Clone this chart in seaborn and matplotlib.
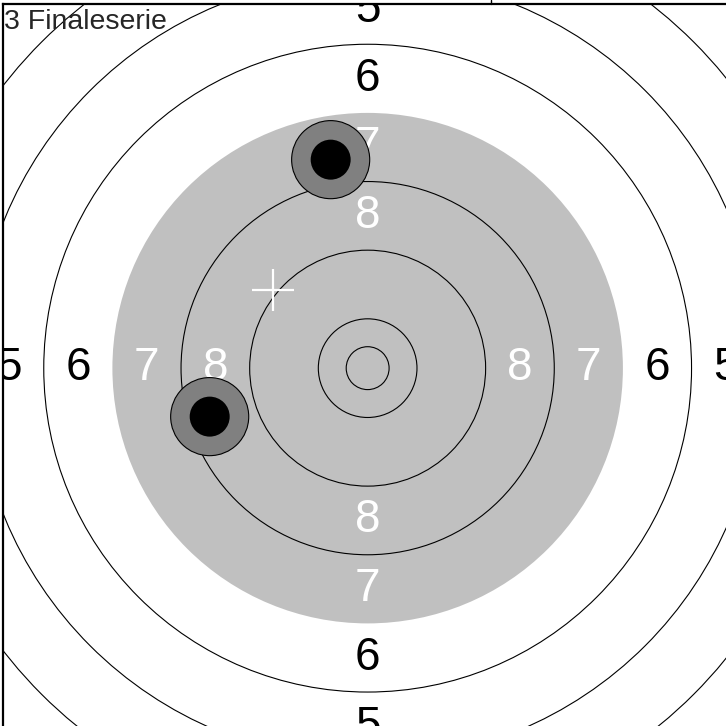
import matplotlib
matplotlib.use("Agg")
import matplotlib.pyplot as plt
from matplotlib.patches import Circle
from matplotlib.lines import Line2D
import seaborn as sns
import pandas as pd

## Air pistol target, everything in mm
ring_radii = [2.5, 5.75, 13.75, 21.75, 29.75, 37.75, 45.75, 53.75, 61.75]
black_radius = 29.75
label_rings = [8, 7, 6, 5]
label_dist = [17.75, 25.75, 33.75, 41.8]

# shots (centre in mm)
shot_x = [-4.31, -18.41]
shot_y = [24.3, -5.65]
# average point (white cross)
mean_x = [-11.0]
mean_y = [9.1]

title = "3 Finaleserie"
view = 42.5

sns.set_style("white")
plt.rcParams['font.family'] = ['Liberation Sans', 'DejaVu Sans']

W = 726
fig = plt.figure(figsize=(W / 100, W / 100), dpi=100)
scale = 8.58  # px per mm
size_px = 2 * view * scale
ax = fig.add_axes([3 / W, (W - 3.5 - size_px) / W, size_px / W, size_px / W])
ax.set_xlim(-view, view)
ax.set_ylim(-view, view)
ax.set_aspect('equal')
ax.set_xticks([])
ax.set_yticks([])
for sp in ax.spines.values():
    sp.set_color('black')
    sp.set_linewidth(1.6)

# grey "black" area
ax.add_patch(Circle((0, 0), black_radius, facecolor='#c0c0c0', edgecolor='none', zorder=1))
for r in ring_radii:
    if r == black_radius:
        continue
    ax.add_patch(Circle((0, 0), r, facecolor='none', edgecolor='black', linewidth=0.8, zorder=2))

# ring numbers
for ring, d in zip(label_rings, label_dist):
    col = 'white' if d < black_radius else 'black'
    for px, py in [(0, d), (0, -d), (d, 0), (-d, 0)]:
        ax.text(px, py, str(ring), color=col, fontsize=33, ha='center', va='center',
                zorder=3, clip_on=True)

# shots
shots = pd.DataFrame({'x': shot_x, 'y': shot_y})
for _, s in shots.iterrows():
    ax.add_patch(Circle((s.x, s.y), 4.55, facecolor='#808080', edgecolor='black', linewidth=0.8, zorder=4))
    ax.add_patch(Circle((s.x, s.y), 2.33, facecolor='black', edgecolor='none', zorder=5))

sns.scatterplot(x=mean_x, y=mean_y, marker='+', s=880, color='white', linewidth=1.6, ax=ax, zorder=6)

ax.text(0.001, 0.993, title, transform=ax.transAxes, fontsize=20.5, ha='left', va='top', zorder=7)

# little separator at the top border
fig.add_artist(Line2D([490.7 / W, 490.7 / W], [1.0, (W - 3.5) / W], color='black', linewidth=1.0,
                      transform=fig.transFigure))

fig.savefig('out.png', dpi=100)
